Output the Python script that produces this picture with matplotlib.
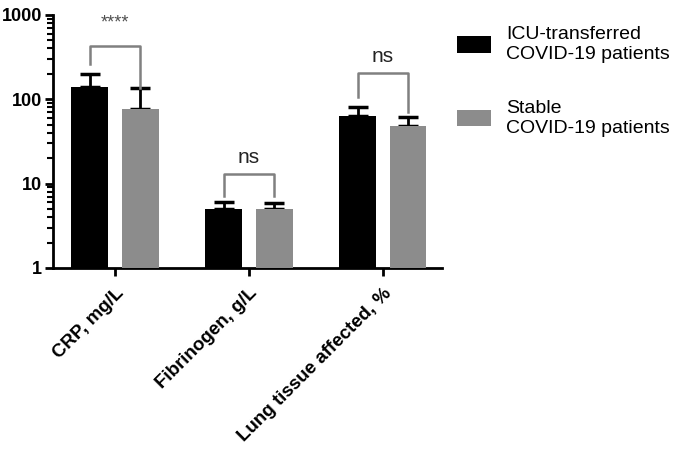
import matplotlib
matplotlib.use("Agg")
import matplotlib.pyplot as plt
import numpy as np

categories = ["CRP, mg/L", "Fibrinogen, g/L", "Lung tissue affected, %"]
icu_values = [139, 5.0, 63]
icu_upper = [198, 6.0, 80]
stable_values = [76, 5.0, 48]
stable_upper = [135, 5.9, 61]
sig_labels = ["****", "ns", "ns"]
bracket_tops = [426, 12.9, 203]
bracket_left_ends = [260, 7.2, 105]
bracket_right_ends = [135, 7.2, 70]
series_names = ["ICU-transferred\nCOVID-19 patients", "Stable\nCOVID-19 patients"]

plt.rcParams["font.family"] = ["Liberation Sans", "DejaVu Sans"]

fig = plt.figure(figsize=(6.83, 4.51), dpi=100)
ax = fig.add_axes([0.0776, 0.406, 0.5694, 0.561])

x = np.arange(len(categories))
offset = 0.19
width = 0.27

icu_err = [np.zeros(len(x)), np.array(icu_upper) - np.array(icu_values)]
stable_err = [np.zeros(len(x)), np.array(stable_upper) - np.array(stable_values)]

ax.errorbar(x - offset, icu_values, yerr=icu_err, fmt="none", ecolor="black",
            elinewidth=2, capsize=7, capthick=2.5, zorder=2)
ax.errorbar(x + offset, stable_values, yerr=stable_err, fmt="none", ecolor="black",
            elinewidth=2, capsize=7, capthick=2.5, zorder=2)
b1 = ax.bar(x - offset, icu_values, width, color="black", label=series_names[0], zorder=3)
b2 = ax.bar(x + offset, stable_values, width, color="#8c8c8c", label=series_names[1], zorder=3)

for i in range(len(categories)):
    xl, xr = x[i] - offset, x[i] + offset
    ax.plot([xl, xl, xr, xr], [bracket_left_ends[i], bracket_tops[i], bracket_tops[i], bracket_right_ends[i]],
            color="#808080", linewidth=1.8, zorder=4, clip_on=False)
    if sig_labels[i] == "****":
        ax.text(x[i], bracket_tops[i] * 1.5, sig_labels[i], ha="center", va="bottom",
                fontsize=13, color="#505050", clip_on=False)
    else:
        ax.text(x[i], bracket_tops[i] * 1.22, sig_labels[i], ha="center", va="bottom",
                fontsize=15, color="#222222", clip_on=False)

ax.set_yscale("log")
ax.set_ylim(1, 1000)
ax.set_xlim(-0.463, 2.44)
ax.set_yticks([1, 10, 100, 1000])
ax.set_yticklabels(["1", "10", "100", "1000"], fontweight="bold", fontsize=13)
ax.set_xticks(x)
ax.set_xticklabels(categories, rotation=45, ha="right", rotation_mode="anchor",
                   fontweight="bold", fontsize=13.5)

ax.spines["top"].set_visible(False)
ax.spines["right"].set_visible(False)
ax.spines["left"].set_linewidth(2)
ax.spines["bottom"].set_linewidth(2)
ax.tick_params(axis="y", which="major", length=6, width=2, direction="out", pad=2)
ax.tick_params(axis="y", which="minor", length=4, width=1.5, direction="out")
ax.tick_params(axis="x", which="major", length=6, width=2, direction="out", pad=6)

ax.legend(handles=[b1, b2], loc="upper left", bbox_to_anchor=(1.02, 0.985),
          frameon=False, fontsize=14, handlelength=1.7, handleheight=0.9,
          labelspacing=1.9, handletextpad=0.8, borderaxespad=0)

fig.savefig("out.png", dpi=100)
